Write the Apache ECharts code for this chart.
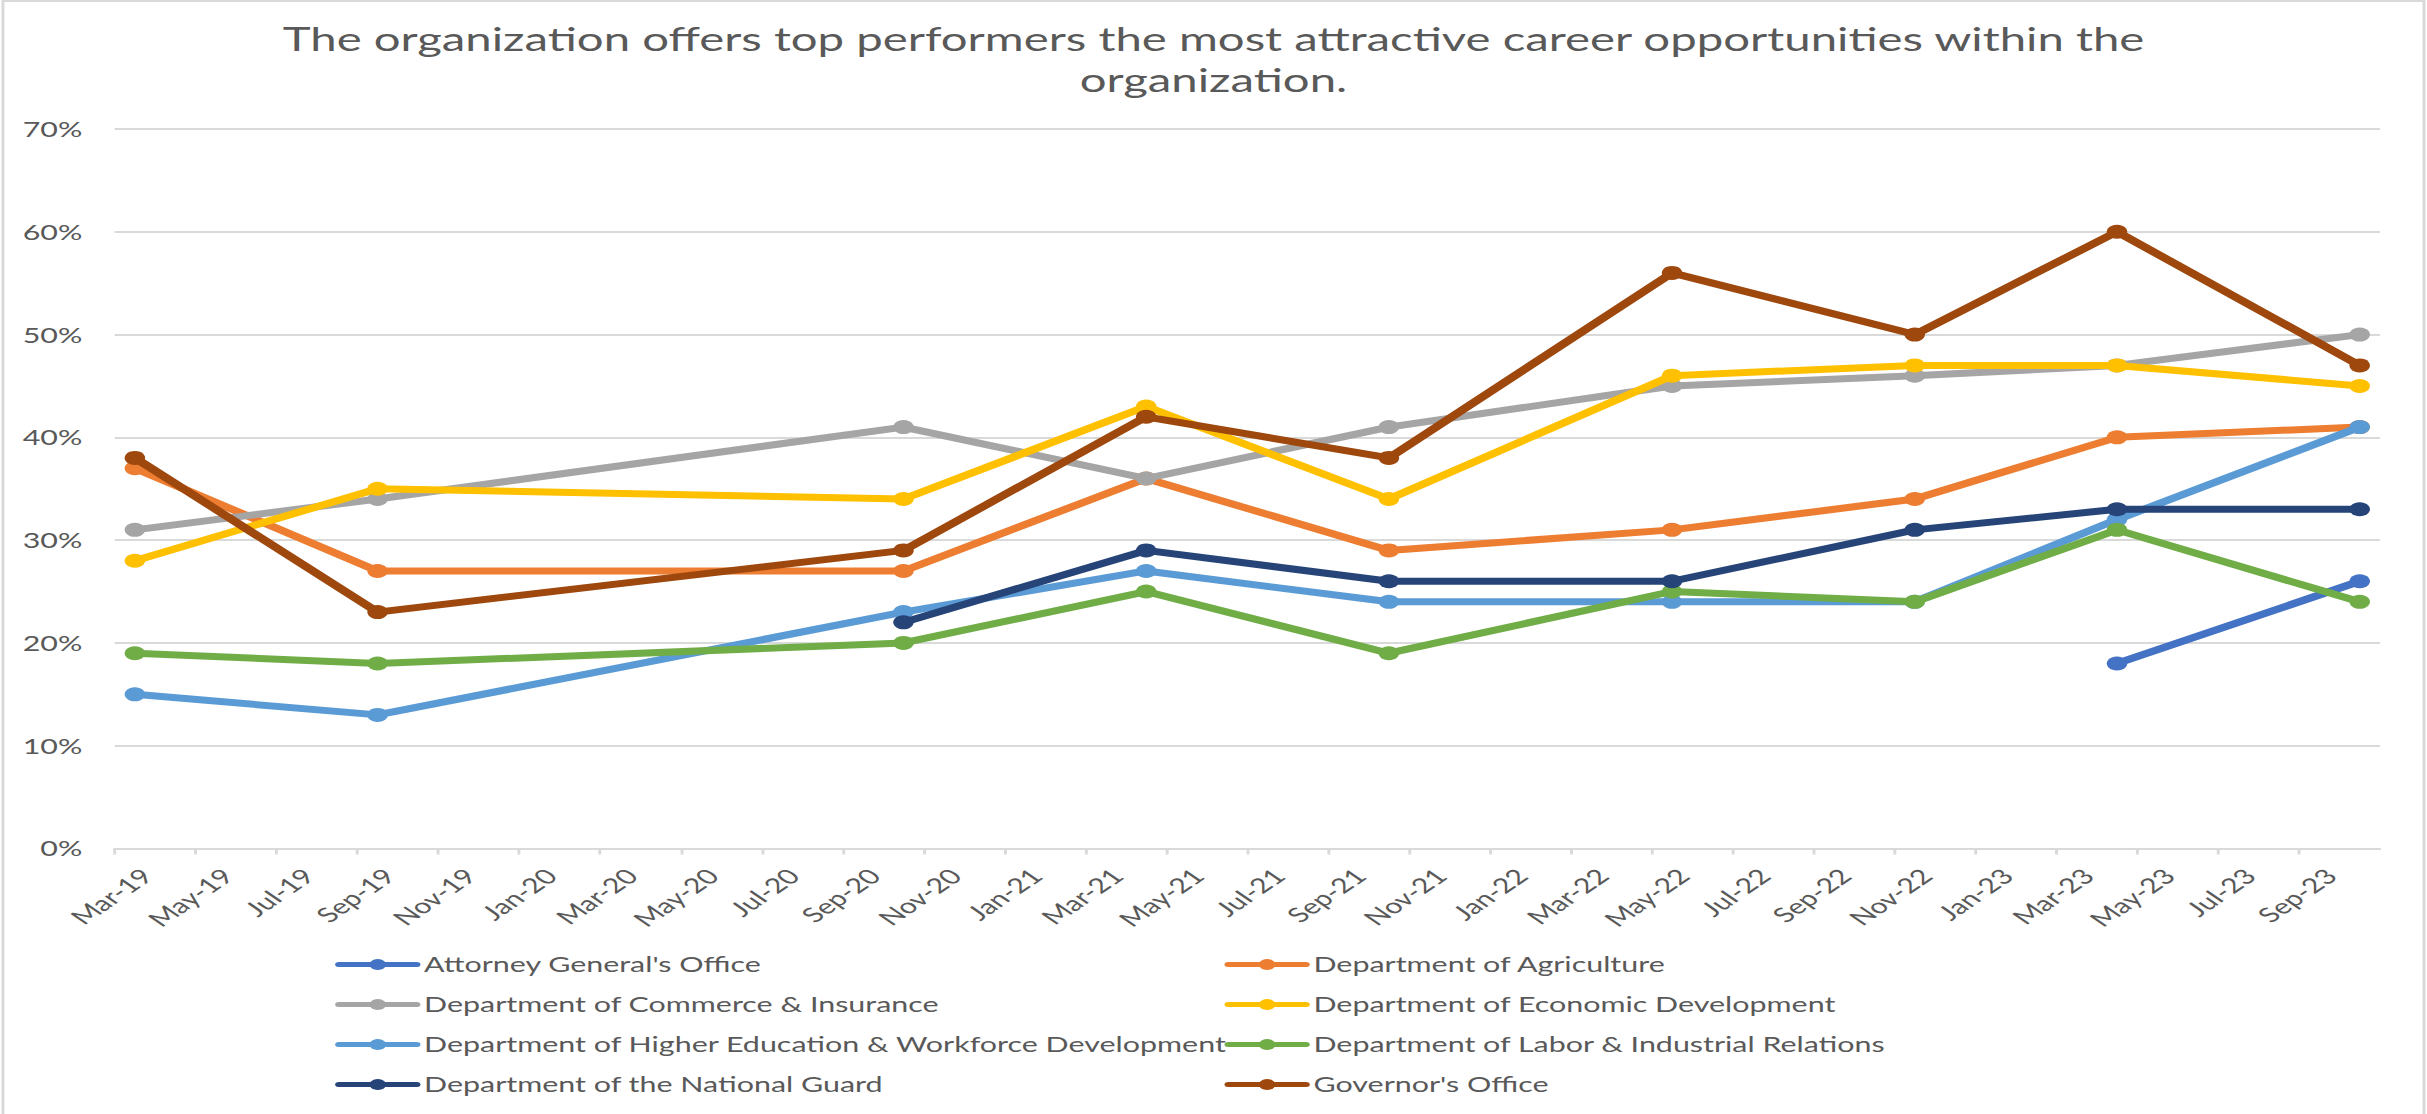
<!DOCTYPE html>
<html>
<head>
<meta charset="utf-8">
<title>Career opportunities for top performers</title>
<script src="https://cdn.jsdelivr.net/npm/echarts@6/dist/echarts.min.js"></script>
<style>
  html, body { margin: 0; padding: 0; background: #fff; overflow: hidden; }
  #wrap { width: 2427px; height: 1114px; overflow: hidden; background: #fff; }
  /* the chart is laid out narrower and stretched sideways to fill the frame */
  #chart { width: 1651px; height: 1114px; transform: scaleX(1.47); transform-origin: 0 0; }
</style>
</head>
<body>
<div id="wrap"><div id="chart"></div></div>
<script>
// Survey waves (month of each wave)
const waves = ['Mar-19', 'Sep-19', 'Oct-20', 'Apr-21', 'Oct-21', 'May-22', 'Nov-22', 'Apr-23', 'Oct-23'];

// Share agreeing, in percent, per wave (null = not surveyed)
const attorneyGeneral   = [null, null, null, null, null, null, null, 18, 26];
const agriculture       = [37, 27, 27, 36, 29, 31, 34, 40, 41];
const commerce          = [31, 34, 41, 36, 41, 45, 46, 47, 50];
const economicDev       = [28, 35, 34, 43, 34, 46, 47, 47, 45];
const higherEducation   = [15, 13, 23, 27, 24, 24, 24, 32, 41];
const laborRelations    = [19, 18, 20, 25, 19, 25, 24, 31, 24];
const nationalGuard     = [null, null, 22, 29, 26, 26, 31, 33, 33];
const governorsOffice   = [38, 23, 29, 42, 38, 56, 50, 60, 47];

// Date axis tick labels, every second month from the start of the axis
const tickLabels = ['Mar-19', 'May-19', 'Jul-19', 'Sep-19', 'Nov-19', 'Jan-20', 'Mar-20', 'May-20',
  'Jul-20', 'Sep-20', 'Nov-20', 'Jan-21', 'Mar-21', 'May-21', 'Jul-21', 'Sep-21', 'Nov-21',
  'Jan-22', 'Mar-22', 'May-22', 'Jul-22', 'Sep-22', 'Nov-22', 'Jan-23', 'Mar-23', 'May-23',
  'Jul-23', 'Sep-23', 'Nov-23'];

const seriesNames = [
  "Attorney General's Office",
  'Department of Agriculture',
  'Department of Commerce & Insurance',
  'Department of Economic Development',
  'Department of Higher Education & Workforce Development',
  'Department of Labor & Industrial Relations',
  'Department of the National Guard',
  "Governor's Office"
];
const seriesValues = [attorneyGeneral, agriculture, commerce, economicDev,
  higherEducation, laborRelations, nationalGuard, governorsOffice];
const colors = ['#4472C4', '#ED7D31', '#A5A5A5', '#FFC000', '#5B9BD5', '#70AD47', '#264478', '#9E480E'];

const MONTHS = ['Jan', 'Feb', 'Mar', 'Apr', 'May', 'Jun', 'Jul', 'Aug', 'Sep', 'Oct', 'Nov', 'Dec'];
// months since Mar-19; each wave sits in the middle of its month
function monthIndex(label) {
  const [m, y] = label.split('-');
  return (2000 + Number(y) - 2019) * 12 + MONTHS.indexOf(m) - 2;
}
const waveX = waves.map(w => monthIndex(w) + 0.5);

const FONT = 'Lato, "Open Sans", sans-serif';
const TEXT = '#595959';

const series = seriesNames.map((name, i) => ({
  name: name,
  type: 'line',
  data: seriesValues[i].map((v, k) => [waveX[k], v]).filter(p => p[1] !== null),
  symbol: 'circle',
  symbolSize: 14,
  lineStyle: { width: 7, color: colors[i], cap: 'round', join: 'round' },
  itemStyle: { color: colors[i] },
  emphasis: { disabled: true },
  z: 2 + i
}));

const legendBase = {
  orient: 'vertical',
  top: 954,
  padding: 0,
  itemWidth: 53,
  itemHeight: 14,
  itemGap: 19,
  lineStyle: { width: 5 },
  textStyle: { fontFamily: FONT, fontSize: 20.7, color: TEXT, lineHeight: 20 },
  selectedMode: false
};

const chart = echarts.init(document.getElementById('chart'), null, { renderer: 'svg' });
chart.setOption({
  animation: false,
  backgroundColor: '#fff',
  color: colors,
  title: {
    text: 'The organization offers top performers the most attractive career opportunities within the\norganization.',
    left: 'center',
    top: 18,
    padding: 0,
    textStyle: { fontFamily: FONT, fontSize: 32.2, fontWeight: 'normal', color: TEXT, lineHeight: 41 }
  },
  graphic: [{
    type: 'rect',
    shape: { x: 2, y: 1, width: 1647, height: 1120 },
    style: { fill: 'none', stroke: '#D9D9D9', lineWidth: 2 },
    silent: true
  }],
  legend: [
    Object.assign({}, legendBase, { left: 228, data: [seriesNames[0], seriesNames[2], seriesNames[4], seriesNames[6]] }),
    Object.assign({}, legendBase, { left: 833, data: [seriesNames[1], seriesNames[3], seriesNames[5], seriesNames[7]] })
  ],
  grid: { left: 78, right: 32, top: 129, bottom: 265.5, containLabel: false },
  xAxis: {
    type: 'value',
    min: 0,
    max: 56,
    interval: 2,
    axisLine: { show: true, lineStyle: { color: '#D9D9D9', width: 2 } },
    axisTick: { show: true, length: 6, lineStyle: { color: '#D9D9D9', width: 2 } },
    splitLine: { show: false },
    axisLabel: {
      rotate: 45,
      align: 'right',
      verticalAlign: 'top',
      padding: [20, 0, 0, 0],
      margin: 2,
      showMaxLabel: false,
      fontFamily: FONT,
      fontSize: 20.7,
      color: TEXT,
      formatter: v => tickLabels[Math.round(v / 2)]
    }
  },
  yAxis: {
    type: 'value',
    min: 0,
    max: 70,
    interval: 10,
    axisLine: { show: false },
    axisTick: { show: false },
    splitLine: { show: true, lineStyle: { color: '#D9D9D9', width: 2 } },
    axisLabel: { margin: 22, fontFamily: FONT, fontSize: 20.7, color: TEXT, formatter: v => v + '%' }
  },
  series: series
});
</script>
</body>
</html>
